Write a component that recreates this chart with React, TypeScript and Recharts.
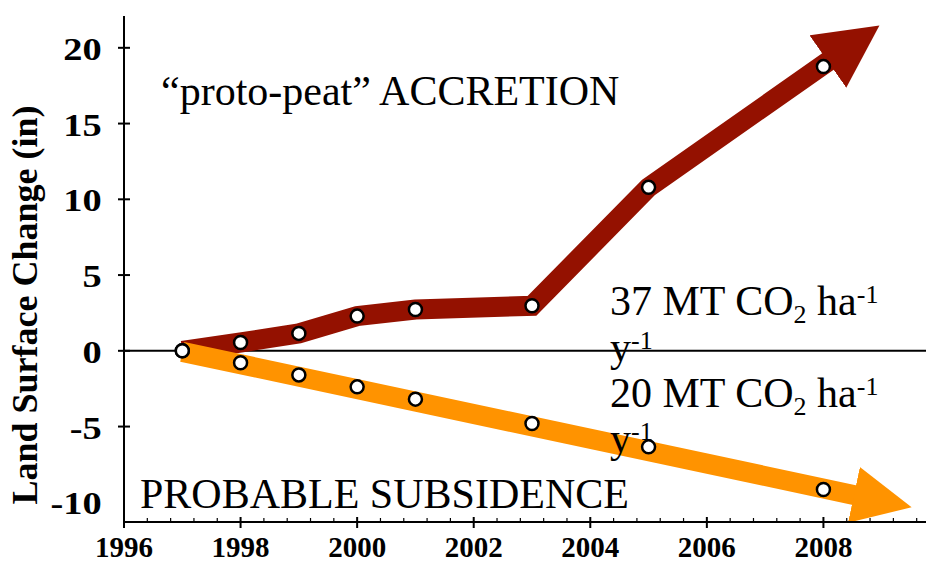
import { LineChart, Line, XAxis, YAxis, ReferenceLine } from 'recharts';

// measured surface change (in) per year
const years = [1997, 1998, 1999, 2000, 2001, 2003, 2005, 2008];
const accretion = [0, 0.55, 1.15, 2.29, 2.73, 2.97, 10.79, 18.76];
const subsidence = [0, -0.79, -1.59, -2.38, -3.19, -4.8, -6.34, -9.15];

// arrow bodies, ending where the arrowhead starts
const accretionArrowYears = [1997, 1998, 1999, 2000, 2001, 2003, 2005, 2008.09];
const accretionArrowValues = [0, 0.55, 1.15, 2.29, 2.73, 2.97, 10.79, 19.13];
const subsidenceArrowYears = [1997, 2008.54];
const subsidenceArrowValues = [-0.07, -9.53];

const xTicks = Array.from({ length: 36 }, (_, i) => +(1996 + i * 0.4).toFixed(1));
const xLabels = [1996, 1998, 2000, 2002, 2004, 2006, 2008];
const yTicks = [-10, -5, 0, 5, 10, 15, 20];

const RED = '#941100';
const ORANGE = '#FF9300';
const SERIF = "'Liberation Serif', 'Times New Roman', serif";

const toRows = (xs: number[], vs: number[]) => xs.map((x, i) => ({ year: x, value: vs[i] }));

const isMajor = (v: number) => Math.abs(v - Math.round(v)) < 1e-6 && Math.round(v) % 2 === 0;

const BottomTick = ({ x, y, payload }: any) => {
  const v = payload.value;
  if (!isMajor(v)) {
    return <line x1={x} x2={x} y1={y} y2={y - 4} stroke="#000" strokeWidth={1.2} />;
  }
  return (
    <g>
      <line x1={x} x2={x} y1={y - 5} y2={y + 6} stroke="#000" strokeWidth={2} />
      {xLabels.includes(Math.round(v)) && (
        <text x={x} y={y + 35} textAnchor="middle" fontFamily={SERIF} fontWeight="bold" fontSize={29} fill="#000">
          {Math.round(v)}
        </text>
      )}
    </g>
  );
};

const TopTick = ({ x, y, payload }: any) => {
  const v = payload.value;
  if (!isMajor(v)) {
    return <line x1={x} x2={x} y1={y} y2={y + 4} stroke="#000" strokeWidth={1.2} />;
  }
  return <line x1={x} x2={x} y1={y - 4} y2={y + 6} stroke="#000" strokeWidth={2} />;
};

const LeftTick = ({ x, y, payload }: any) => (
  <g>
    {payload.value !== -10 && <line x1={x - 6} x2={x + 6} y1={y} y2={y} stroke="#000" strokeWidth={2} />}
    <text
      transform={`translate(101.7, ${y + 12}) scale(1.2, 1)`}
      textAnchor="end"
      fontFamily={SERIF}
      fontWeight="bold"
      fontSize={32}
      fill="#000"
    >
      {payload.value}
    </text>
  </g>
);

const dotStyle = { r: 6.5, fill: '#fff', stroke: '#000', strokeWidth: 2.5 };

export default function App() {
  return (
    <div style={{ position: 'absolute', left: 0, top: 0, width: 926, height: 564, overflow: 'hidden', background: '#fff' }}>
      <LineChart width={950} height={564} margin={{ top: 16, right: 10, bottom: 0, left: 0 }}>
        <defs>
          <marker id="headRed" markerUnits="userSpaceOnUse" markerWidth={64} markerHeight={64} viewBox="0 0 64 64" refX={1} refY={32} orient="auto">
            <path d="M0,0 L63,32 L0,64 Z" fill={RED} />
          </marker>
          <marker id="headOrange" markerUnits="userSpaceOnUse" markerWidth={60} markerHeight={58} viewBox="0 0 60 58" refX={1} refY={28.5} orient="auto">
            <path d="M0,0 L59,28.5 L0,57 Z" fill={ORANGE} />
          </marker>
        </defs>
        <XAxis
          dataKey="year"
          type="number"
          domain={[1996, 2010]}
          ticks={xTicks}
          interval={0}
          height={42}
          tickSize={0}
          tickMargin={0}
          tickLine={false}
          axisLine={{ stroke: '#000', strokeWidth: 2 }}
          tick={<BottomTick />}
        />
        <XAxis
          xAxisId="top"
          orientation="top"
          dataKey="year"
          type="number"
          domain={[1996, 2010]}
          ticks={xTicks}
          interval={0}
          height={0}
          tickSize={0}
          tickMargin={0}
          tickLine={false}
          axisLine={{ stroke: '#000', strokeWidth: 2 }}
          tick={<TopTick />}
        />
        <YAxis
          type="number"
          domain={[-11.3, 22.1]}
          ticks={yTicks}
          interval={0}
          width={124}
          tickSize={0}
          tickMargin={0}
          tickLine={false}
          axisLine={{ stroke: '#000', strokeWidth: 2 }}
          tick={<LeftTick />}
        />
        <ReferenceLine y={0} stroke="#000" strokeWidth={2} />
        <Line
          data={toRows(accretionArrowYears, accretionArrowValues)}
          dataKey="value"
          type="linear"
          stroke={RED}
          strokeWidth={20}
          markerEnd="url(#headRed)"
          dot={false}
          activeDot={false}
          isAnimationActive={false}
        />
        <Line
          data={toRows(subsidenceArrowYears, subsidenceArrowValues)}
          dataKey="value"
          type="linear"
          stroke={ORANGE}
          strokeWidth={20}
          markerEnd="url(#headOrange)"
          dot={false}
          activeDot={false}
          isAnimationActive={false}
        />
        <Line
          data={toRows(years, accretion)}
          dataKey="value"
          stroke="none"
          dot={dotStyle}
          activeDot={false}
          isAnimationActive={false}
        />
        <Line
          data={toRows(years, subsidence)}
          dataKey="value"
          stroke="none"
          dot={dotStyle}
          activeDot={false}
          isAnimationActive={false}
        />
      </LineChart>
      <svg width={926} height={564} style={{ position: 'absolute', left: 0, top: 0, pointerEvents: 'none' }}>
        <text
          x={37}
          y={305}
          transform="rotate(-90, 37, 305)"
          textAnchor="middle"
          fontFamily={SERIF}
          fontWeight="bold"
          fontSize={36}
          fill="#000"
        >
          Land Surface Change (in)
        </text>
        <text x={161} y={105} fontFamily={SERIF} fontSize={42} fill="#000">
          “proto-peat” ACCRETION
        </text>
        <text x={140} y={508} fontFamily={SERIF} fontSize={42} fill="#000">
          PROBABLE SUBSIDENCE
        </text>
        <text x={610} y={315} fontFamily={SERIF} fontSize={42} fill="#000">
          37 MT CO<tspan fontSize={26} dy={8}>2</tspan>
          <tspan dy={-8}> ha</tspan>
          <tspan fontSize={26} dy={-12}>-1</tspan>
        </text>
        <text x={610} y={361} fontFamily={SERIF} fontSize={42} fill="#000">
          y<tspan fontSize={26} dy={-12}>-1</tspan>
        </text>
        <text x={610} y={407} fontFamily={SERIF} fontSize={42} fill="#000">
          20 MT CO<tspan fontSize={26} dy={8}>2</tspan>
          <tspan dy={-8}> ha</tspan>
          <tspan fontSize={26} dy={-12}>-1</tspan>
        </text>
        <text x={610} y={452} fontFamily={SERIF} fontSize={42} fill="#000">
          y<tspan fontSize={26} dy={-12}>-1</tspan>
        </text>
      </svg>
    </div>
  );
}
